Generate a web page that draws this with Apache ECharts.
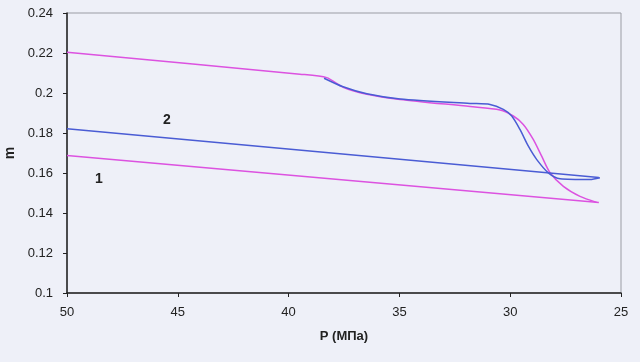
<!DOCTYPE html>
<html>
<head>
<meta charset="utf-8">
<script src="https://cdn.jsdelivr.net/npm/echarts@6/dist/echarts.min.js"></script>
<style>
  html, body { margin: 0; padding: 0; background: #eef0f8; }
  #chart { width: 640px; height: 362px; }
</style>
</head>
<body>
<div id="chart"></div>
<script>
// значения: P (МПа) и m
var lowerP1 = [50, 26];
var lowerM1 = [0.1687, 0.1453];
var upperP1 = [26.1, 26.85, 27.6, 28.2, 28.58, 28.96, 29.41, 29.86, 30.46, 31.81, 34.97, 36.47, 37.54, 38.28, 39.49, 50];
var upperM1 = [0.1453, 0.1483, 0.1533, 0.1601, 0.1684, 0.1768, 0.1843, 0.1885, 0.1915, 0.1932, 0.1968, 0.1994, 0.2029, 0.2077, 0.2094, 0.2204];

var lowerP2 = [50, 26];
var lowerM2 = [0.1821, 0.1578];
var upperP2 = [25.95, 26.4, 27.75, 28.28, 28.8, 29.18, 29.56, 29.93, 30.31, 30.91, 31.81, 34.97, 36.47, 37.54, 38.4];
var upperM2 = [0.1576, 0.1567, 0.1571, 0.1601, 0.1667, 0.1734, 0.1818, 0.1885, 0.1918, 0.1943, 0.1948, 0.1970, 0.1996, 0.2031, 0.2074];

// подписи кривых
var curveNames = ['1', '2'];
var curveLabelP = [48.56, 45.49];
var curveLabelM = [0.1567, 0.1863];

var colorMagenta = '#dc52e0';
var colorBlue = '#4a5cd4';

function pairs(xs, ys) {
	var ret = [];
	for (var i = 0; i < xs.length; i++) {
		ret.push([xs[i], ys[i]]);
	}
	return ret;
}

function line(name, color, xs, ys, extra) {
	var s = {
		name: name,
		type: 'line',
		showSymbol: false,
		symbol: 'none',
		smooth: 0.25,
		lineStyle: { color: color, width: 1.5 },
		data: pairs(xs, ys),
		z: 3
	};
	for (var k in extra) s[k] = extra[k];
	return s;
}

var font = 'Liberation Sans, Arial';

var chart = echarts.init(document.getElementById('chart'));
chart.setOption({
	backgroundColor: '#eef0f8',
	animation: false,
	grid: {
		left: 67, right: 19, top: 13, bottom: 69,
		outerBoundsMode: 'none',
		containLabel: false,
		show: true, borderColor: '#9a9ca4', borderWidth: 1, backgroundColor: 'transparent'
	},
	xAxis: {
		type: 'value',
		inverse: true,
		min: 25, max: 50, interval: 5,
		name: 'P (МПа)',
		nameLocation: 'middle',
		nameGap: 37,
		nameTextStyle: { color: '#222', fontFamily: font, fontSize: 13, fontWeight: 'bold' },
		axisLine: { lineStyle: { color: '#222', width: 1.5 } },
		axisTick: { show: true, length: 4, lineStyle: { color: '#222' } },
		axisLabel: { margin: 13, color: '#222', fontFamily: font, fontSize: 13 },
		splitLine: { show: false }
	},
	yAxis: {
		type: 'value',
		min: 0.1, max: 0.24, interval: 0.02,
		name: 'm',
		nameLocation: 'middle',
		nameGap: 50,
		nameTextStyle: { color: '#222', fontFamily: font, fontSize: 14, fontWeight: 'bold' },
		axisLine: { show: true, lineStyle: { color: '#222', width: 1.5 } },
		axisTick: { show: true, length: 4, lineStyle: { color: '#222' } },
		axisLabel: {
			margin: 14, color: '#222', fontFamily: font, fontSize: 13,
			formatter: function (v) { return String(parseFloat(v.toFixed(2))); }
		},
		splitLine: { show: false }
	},
	series: [
		line('1', colorMagenta, lowerP1, lowerM1),
		line('1', colorMagenta, upperP1, upperM1),
		line('2', colorBlue, lowerP2, lowerM2),
		line('2', colorBlue, upperP2, upperM2, {
			markPoint: {
				symbol: 'circle',
				symbolSize: 1,
				itemStyle: { color: 'rgba(0,0,0,0)' },
				label: {
					show: true, position: 'inside', formatter: '{b}',
					color: '#222', fontFamily: font, fontSize: 14, fontWeight: 'bold'
				},
				data: [
					{ name: curveNames[0], coord: [curveLabelP[0], curveLabelM[0]] },
					{ name: curveNames[1], coord: [curveLabelP[1], curveLabelM[1]] }
				]
			}
		})
	]
});
</script>
</body>
</html>
